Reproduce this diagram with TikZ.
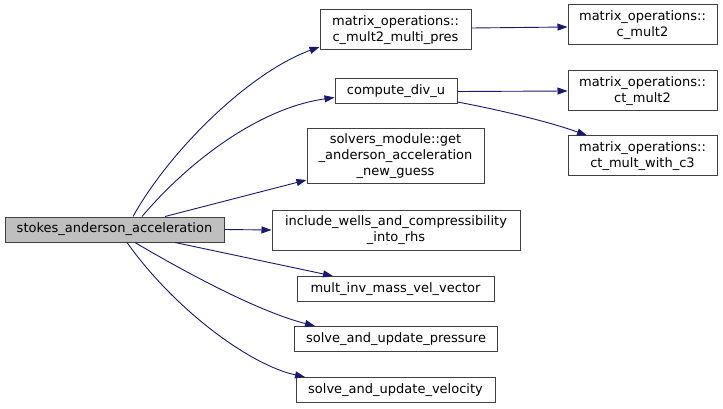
\documentclass[tikz,border=0pt]{standalone}
\usepackage{fontspec}
\setmainfont{DejaVu Sans}
\usetikzlibrary{arrows.meta}
\definecolor{edgeblue}{HTML}{191970}
\definecolor{boxgray}{HTML}{404040}
\definecolor{rootfill}{HTML}{BFBFBF}
\begin{document}
\begin{tikzpicture}[x=1pt,y=-1pt,
  fn/.style={draw=boxgray, line width=1pt, fill=white, inner sep=0pt, align=center,
    font=\fontsize{13}{16}\selectfont},
  root/.style={fn, fill=rootfill},
  call/.style={draw=edgeblue, line width=0.9pt, -{Triangle[length=10pt,width=7pt]}}]
\useasboundingbox (0,0) rectangle (723,409);
\fill[white] (0,0) rectangle (723,409);

\node[root, minimum width=219pt, minimum height=25pt] (st) at (114.5,229.5) {stokes\_anderson\_acceleration};
\node[fn, minimum width=151pt, minimum height=40pt] (cmp) at (395.5,30) {matrix\_operations::\\c\_mult2\_multi\_pres};
\node[fn, minimum width=122pt, minimum height=25pt] (cdu) at (396,91.5) {compute\_div\_u};
\node[fn, minimum width=177pt, minimum height=54pt] (solv) at (395.5,156) {solvers\_module::get\\\_anderson\_acceleration\\\_new\_guess};
\node[fn, minimum width=248pt, minimum height=40pt] (incl) at (396,230) {include\_wells\_and\_compressibility\\\_into\_rhs};
\node[fn, minimum width=197pt, minimum height=25pt] (minv) at (395.5,289) {mult\_inv\_mass\_vel\_vector};
\node[fn, minimum width=203pt, minimum height=25pt] (spres) at (396,339) {solve\_and\_update\_pressure};
\node[fn, minimum width=199pt, minimum height=25pt] (svel) at (395.5,390) {solve\_and\_update\_velocity};
\node[fn, minimum width=149pt, minimum height=40pt] (cm2) at (642.5,25) {matrix\_operations::\\c\_mult2};
\node[fn, minimum width=149pt, minimum height=40pt] (ctm2) at (642.5,91) {matrix\_operations::\\ct\_mult2};
\node[fn, minimum width=149pt, minimum height=40pt] (ctc3) at (642.5,156) {matrix\_operations::\\ct\_mult\_with\_c3};

\draw[call] ([xshift=18.5pt]st.north) .. controls (170,150) and (250,72) .. ([yshift=-17pt]cmp.west);
\draw[call] ([xshift=27.5pt]st.north) .. controls (190,160) and (260,108) .. ([yshift=-6pt]cdu.west);
\draw[call] ([xshift=50.5pt]st.north) -- ([yshift=-24pt]solv.west);
\draw[call] (st.east) -- (incl.west);
\draw[call] ([xshift=60.5pt]st.south) -- ([xshift=-62.5pt]minv.north);
\draw[call] ([xshift=20.5pt]st.south) .. controls (190,275) and (260,312) .. ([xshift=-81pt]spres.north);
\draw[call] ([xshift=12.5pt]st.south) .. controls (175,310) and (250,365) .. ([xshift=-90.5pt]svel.north);
\draw[call] ([yshift=2pt]cmp.east) -- ([yshift=-2pt]cm2.west);
\draw[call] (cdu.east) -- (ctm2.west);
\draw[call] ([yshift=-10.5pt]cdu.east) .. controls (500,110) and (550,122) .. ([xshift=-55.5pt]ctc3.north);
\end{tikzpicture}
\end{document}
